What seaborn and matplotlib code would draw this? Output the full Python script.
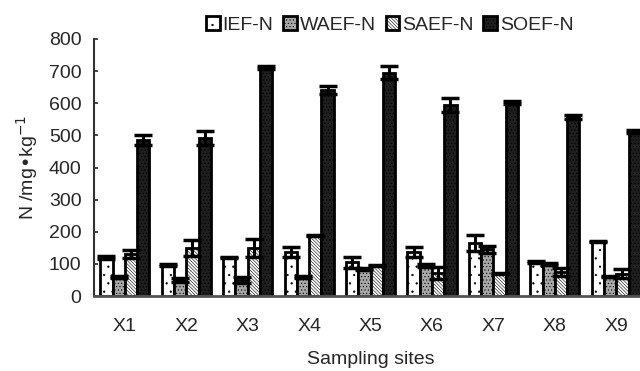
import numpy as np
import pandas as pd
import matplotlib
matplotlib.use('Agg')
import matplotlib.pyplot as plt
import seaborn as sns
from matplotlib.patches import Patch

# chart values
sites = ['X1', 'X2', 'X3', 'X4', 'X5', 'X6', 'X7', 'X8', 'X9']
series = ['IEF-N', 'WAEF-N', 'SAEF-N', 'SOEF-N']
ief = [120, 97, 120, 137, 105, 138, 165, 105, 170]
ief_err = [6, 3, 3, 15, 18, 15, 25, 3, 2]
waef = [58, 50, 50, 58, 85, 95, 145, 100, 60]
waef_err = [3, 5, 10, 3, 3, 5, 10, 3, 2]
saef = [130, 150, 148, 188, 95, 72, 70, 75, 70]
saef_err = [12, 25, 28, 2, 3, 18, 2, 12, 15]
soef = [485, 492, 712, 642, 695, 595, 603, 557, 513]
soef_err = [15, 22, 5, 12, 20, 22, 5, 5, 5]

values = [ief, waef, saef, soef]
errors = [ief_err, waef_err, saef_err, soef_err]

df = pd.DataFrame({
    'site': sites * 4,
    'series': [s for s in series for _ in sites],
    'value': ief + waef + saef + soef,
})

sns.set_style('white')
plt.rcParams['font.family'] = ['Liberation Sans', 'DejaVu Sans']
plt.rcParams['hatch.linewidth'] = 0.4

fig = plt.figure(figsize=(6.4, 3.71), dpi=100)
ax = fig.add_axes([0.147, 0.202, 0.864, 0.693])

faces = ['white', '#a8a8a8', 'white', '#1e1e1e']
hatches = ['..', '.....', '\\' * 10, '.....']

sns.barplot(data=df, x='site', y='value', hue='series', order=sites,
            hue_order=series, palette=faces, width=0.8, errorbar=None,
            edgecolor='black', linewidth=2, legend=False, ax=ax, zorder=2)

bar_conts = list(ax.containers)
for i, cont in enumerate(bar_conts):
    for bar, v, e in zip(cont, values[i], errors[i]):
        bar.set_hatch(hatches[i])
        bar.set_facecolor(faces[i])
        bar.set_edgecolor('black')
        xc = bar.get_x() + bar.get_width() / 2
        ax.errorbar(xc, v, yerr=e, fmt='none', ecolor='black', elinewidth=2.2,
                    capsize=6.5, capthick=2.5, zorder=3)

ax.set_xlim(-0.5, 8.5)
ax.set_ylim(0, 800)
ax.set_yticks(range(0, 801, 100))
ax.tick_params(axis='y', labelsize=14, length=3, width=1.2, direction='in', left=True, pad=9)
ax.tick_params(axis='x', labelsize=14, length=0, pad=16)

for s in ['top', 'right']:
    ax.spines[s].set_visible(False)
ax.spines['left'].set_color('#333333')
ax.spines['left'].set_linewidth(1.5)
ax.spines['bottom'].set_color('#555555')
ax.spines['bottom'].set_linewidth(2)

ax.set_xlabel('Sampling sites', fontsize=14, labelpad=11)
ax.set_ylabel('N /mg\u2022kg$^{-1}$', fontsize=14, labelpad=6)

handles = [Patch(facecolor=faces[i], edgecolor='black', linewidth=2, hatch=hatches[i])
           for i in range(4)]
fig.legend(handles, series, loc='center', bbox_to_anchor=(0.609, 0.933), ncol=4,
           frameon=False, fontsize=14, handlelength=0.7, handleheight=0.7,
           handletextpad=0.15, columnspacing=0.5)

fig.savefig('out.png', dpi=100)
